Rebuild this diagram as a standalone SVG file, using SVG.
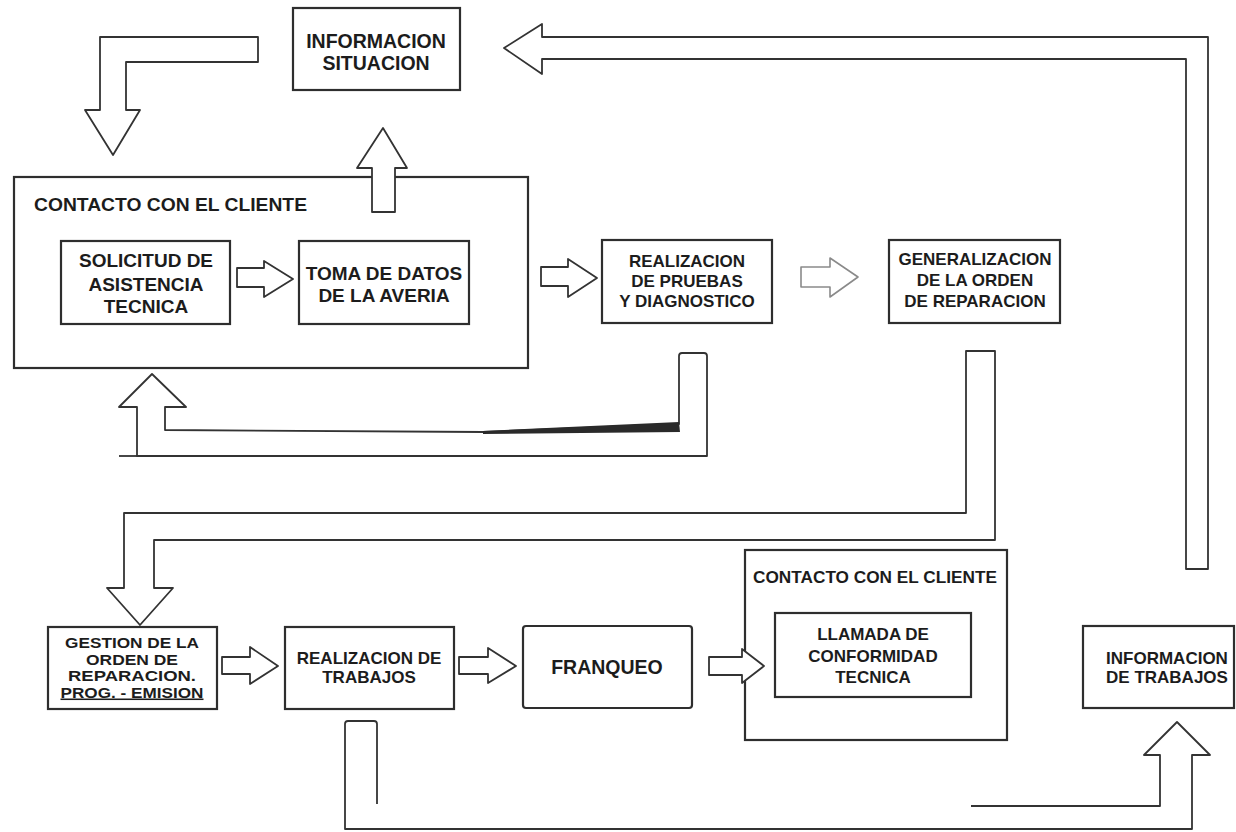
<svg xmlns="http://www.w3.org/2000/svg" width="1236" height="832" viewBox="0 0 1236 832">
  <style>
    .box { fill: #ffffff; stroke: #2e2e2e; stroke-width: 2.2; }
    .arrow { fill: #ffffff; stroke: #333333; stroke-width: 1.8; stroke-linejoin: round; }
    .arrow-faint { fill: #ffffff; stroke: #8a8a8a; stroke-width: 1.6; stroke-linejoin: round; }
    .line { fill: none; stroke: #333333; stroke-width: 1.8; stroke-linejoin: round; }
    .wedge { fill: #2a2a2a; stroke: none; }
    text { font-family: "Liberation Sans", Arial, Helvetica, sans-serif; font-weight: bold; fill: #1c1c1c; }
    .c { text-anchor: middle; }
    .t19 { font-size: 19px; }
    .t17 { font-size: 17px; }
    .t15 { font-size: 15.5px; }
  </style>

  <rect width="1236" height="832" fill="#ffffff"/>

  <!-- container blocks (drawn first so arrows sit on top of their borders) -->
  <g id="contacto-cliente-1">
    <rect class="box" x="14" y="177" width="514" height="191"/>
    <text class="t19" x="34" y="211" textLength="273" lengthAdjust="spacingAndGlyphs">CONTACTO CON EL CLIENTE</text>
  </g>

  <g id="contacto-cliente-2">
    <rect class="box" x="745" y="550" width="262" height="190"/>
    <text class="t17" x="753" y="583" textLength="244" lengthAdjust="spacingAndGlyphs">CONTACTO CON EL CLIENTE</text>
  </g>

  <!-- connectors: hollow block arrows -->
  <g id="connectors">
    <!-- bent arrow entering the upper client-contact block -->
    <path class="arrow" d="M258,37 L100,37 L100,110 L85,110 L113,155 L140,110 L126,110 L126,62 L258,62 Z"/>
    <!-- arrow up to INFORMACION SITUACION -->
    <path class="arrow" d="M372,212 L372,168 L357,168 L383,128 L407,168 L395,168 L395,212 Z"/>
    <!-- long return arrow from the right edge to INFORMACION SITUACION -->
    <path class="arrow" d="M1208,569 L1208,37 L542,37 L542,24 L504,48 L542,74 L542,59 L1186,59 L1186,569 Z"/>
    <!-- loop from diagnostics back to the client-contact block -->
    <path class="arrow" d="M137,456 L137,407 L119,407 L152,374 L186,407 L165,407 L165,430 L483,432 L679,424 L679,356 Q679,353 682,353 L704,353 Q707,353 707,356 L707,456 Z"/>
    <line class="line" x1="119" y1="456" x2="137" y2="456"/>
    <polygon class="wedge" points="483,431 679,422 680,432 483,434"/>
    <!-- repair order down to order management -->
    <path class="arrow" d="M966,351 L995,351 L995,540 L154,540 L154,588 L173,588 L140,625 L107,588 L124,588 L124,513 L966,513 Z"/>
    <!-- works loop up to INFORMACION DE TRABAJOS -->
    <path class="line" d="M377,804 L377,724 Q377,721 374,721 L348,721 Q345,721 345,724 L345,829 L1192,829 L1192,755 L1210,755 L1177,722 L1144,755 L1160,755 L1160,806 L971,806"/>

    <!-- small step arrows -->
    <path class="arrow" d="M237,268 L264,268 L264,261 L293,279 L264,297 L264,287 L237,287 Z"/>
    <path class="arrow" d="M541,267 L568,267 L568,259 L597,278 L568,297 L568,286 L541,286 Z"/>
    <path class="arrow-faint" d="M801,267 L830,267 L830,258 L858,277 L830,297 L830,287 L801,287 Z"/>
    <path class="arrow" d="M222,657 L250,657 L250,647 L278,666 L250,684 L250,674 L222,674 Z"/>
    <path class="arrow" d="M459,657 L488,657 L488,648 L516,666 L488,683 L488,674 L459,674 Z"/>
    <path class="arrow" d="M709,657 L742,657 L742,649 L764,666 L742,683 L742,675 L709,675 Z"/>
  </g>

  <g id="informacion-situacion">
    <rect class="box" x="293" y="8" width="167" height="82"/>
    <text class="t19 c" x="376" y="48" style="font-size:19.5px">INFORMACION</text>
    <text class="t19 c" x="376" y="70" style="font-size:19.5px">SITUACION</text>
  </g>

  <g id="solicitud">
    <rect class="box" x="61" y="241" width="169" height="83"/>
    <text class="t19 c" x="146" y="267">SOLICITUD DE</text>
    <text class="t19 c" x="146" y="291">ASISTENCIA</text>
    <text class="t19 c" x="146" y="313">TECNICA</text>
  </g>

  <g id="toma-datos">
    <rect class="box" x="299" y="241" width="170" height="83"/>
    <text class="t19 c" x="384" y="280">TOMA DE DATOS</text>
    <text class="t19 c" x="384" y="302">DE LA AVERIA</text>
  </g>

  <g id="pruebas-diagnostico">
    <rect class="box" x="602" y="240" width="170" height="83"/>
    <text class="t17 c" x="687" y="267">REALIZACION</text>
    <text class="t17 c" x="687" y="287">DE PRUEBAS</text>
    <text class="t17 c" x="687" y="307">Y DIAGNOSTICO</text>
  </g>

  <g id="orden-reparacion">
    <rect class="box" x="889" y="240" width="171" height="83"/>
    <text class="t17 c" x="975" y="265">GENERALIZACION</text>
    <text class="t17 c" x="975" y="286">DE LA ORDEN</text>
    <text class="t17 c" x="975" y="307">DE REPARACION</text>
  </g>

  <g id="gestion-orden">
    <rect class="box" x="48" y="627" width="169" height="82"/>
    <text class="t15 c" x="132" y="648" textLength="134" lengthAdjust="spacingAndGlyphs">GESTION DE LA</text>
    <text class="t15 c" x="132" y="664.5" textLength="92" lengthAdjust="spacingAndGlyphs">ORDEN DE</text>
    <text class="t15 c" x="132" y="681" textLength="128" lengthAdjust="spacingAndGlyphs">REPARACION.</text>
    <text class="t15 c" x="132" y="697.5" textLength="143" lengthAdjust="spacingAndGlyphs" text-decoration="underline">PROG. - EMISION</text>
  </g>

  <g id="realizacion-trabajos">
    <rect class="box" x="285" y="627" width="169" height="82"/>
    <text class="t17 c" x="369" y="664">REALIZACION DE</text>
    <text class="t17 c" x="369" y="683">TRABAJOS</text>
  </g>

  <g id="franqueo">
    <rect class="box" x="523" y="626" width="169" height="82" rx="3"/>
    <text class="t19 c" x="607" y="674" style="font-size:19.5px">FRANQUEO</text>
  </g>

  <g id="llamada-conformidad">
    <rect class="box" x="775" y="613" width="196" height="84"/>
    <text class="t17 c" x="873" y="640">LLAMADA DE</text>
    <text class="t17 c" x="873" y="662">CONFORMIDAD</text>
    <text class="t17 c" x="873" y="683">TECNICA</text>
  </g>

  <g id="informacion-trabajos">
    <rect class="box" x="1083" y="626" width="151" height="82"/>
    <text class="t17 c" x="1167" y="664">INFORMACION</text>
    <text class="t17 c" x="1167" y="683">DE TRABAJOS</text>
  </g>
</svg>
